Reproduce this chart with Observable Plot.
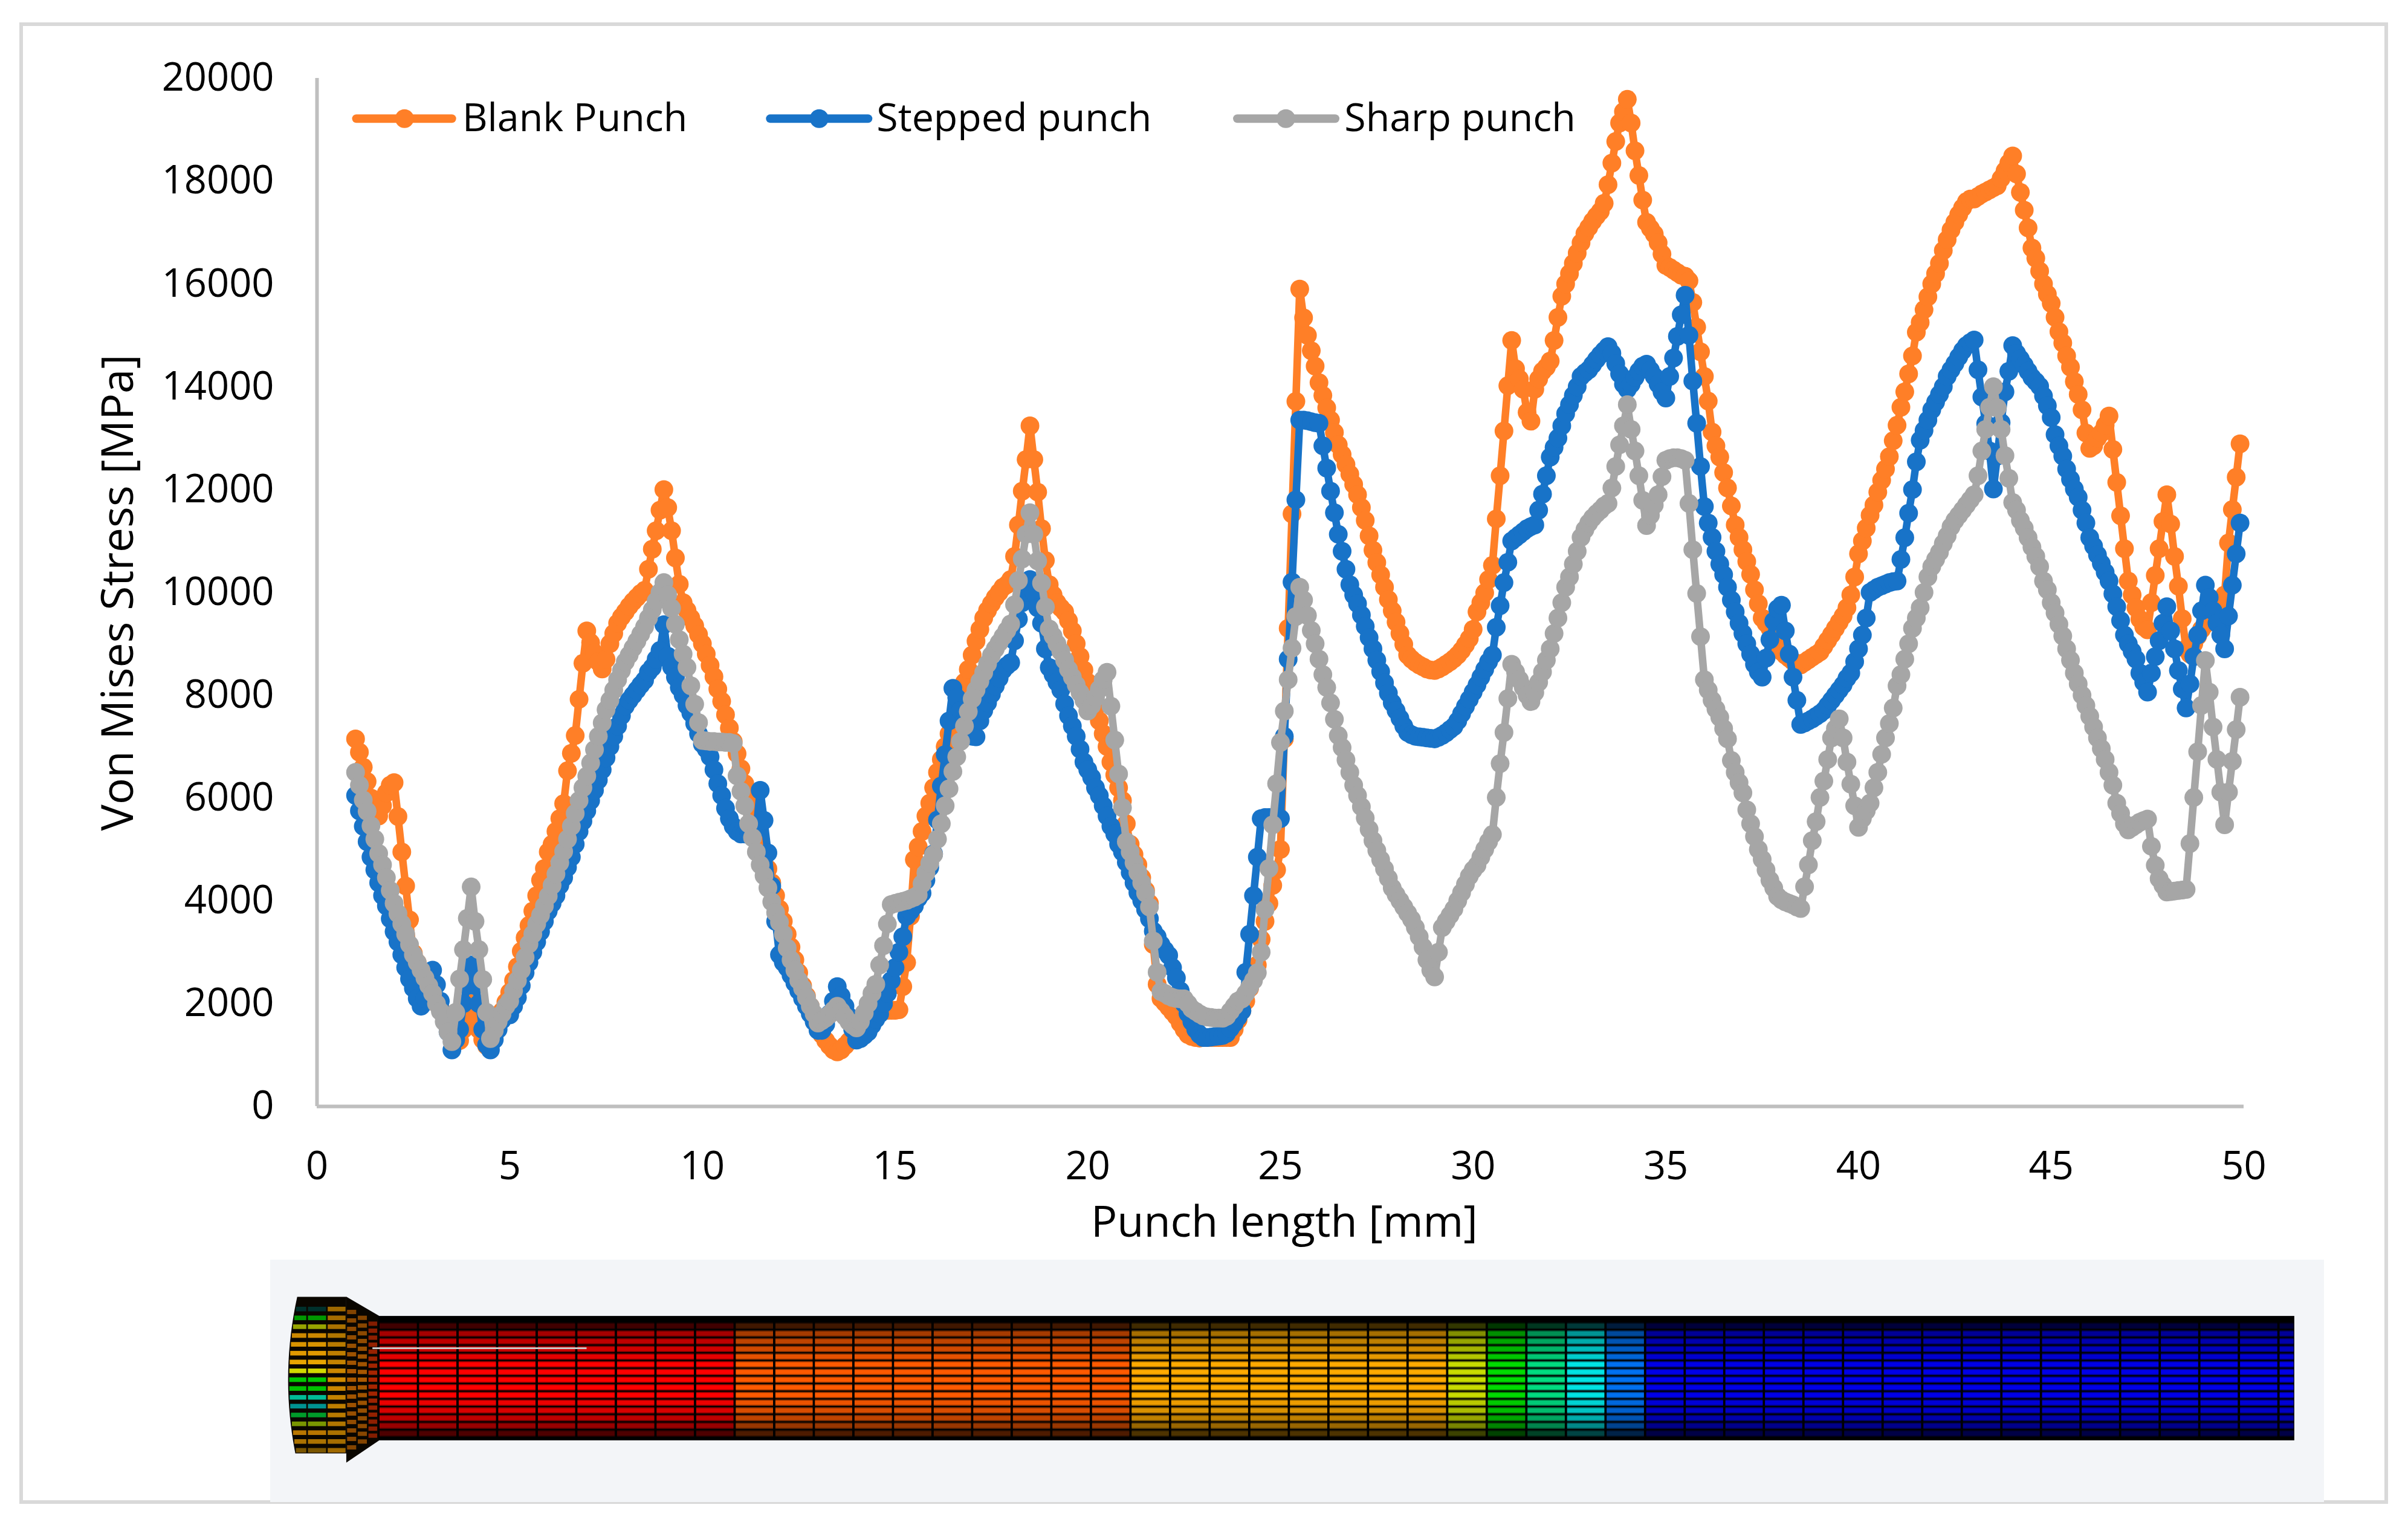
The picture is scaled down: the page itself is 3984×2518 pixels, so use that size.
<!DOCTYPE html>
<html><head><meta charset="utf-8">
<script src="https://cdn.jsdelivr.net/npm/d3@7"></script>
<script src="https://cdn.jsdelivr.net/npm/@observablehq/plot@0.6"></script>
<style>
html,body{margin:0;padding:0;background:#fff;width:3984px;height:2518px;overflow:hidden}
#frame{position:absolute;left:32px;top:37px;width:3907px;height:2439px;border:6px solid #d9d9d9}
#chart{position:absolute;left:0;top:0}
#mesh{position:absolute;left:447px;top:2084px}
</style></head><body>
<div id="frame"></div><div id="chart"></div><div id="mesh"></div>
<script>
const blankPunch = [
7150,6890,6600,6320,6000,5850,5650,5850,6100,6250,
6300,5640,4950,4290,3630,2980,2800,2650,2500,2350,
2200,2050,1900,1750,1550,1350,1250,1280,1500,1750,
2000,1750,1500,1300,1180,1200,1400,1650,1850,2030,
2220,2450,2720,3020,3280,3520,3800,4100,4400,4630,
4950,5100,5350,5600,5890,6530,6870,7215,7920,8620,
9250,9020,8820,8650,8510,8700,9000,9200,9400,9520,
9620,9730,9820,9900,9980,10040,10450,10840,11200,11600,
12000,11650,11200,10670,10160,9800,9650,9500,9350,9180,
9000,8800,8580,8360,8120,7880,7620,7360,7100,6860,
6570,6280,6000,5700,5420,5150,4880,4620,4350,4100,
3840,3600,3350,3100,2850,2600,2350,2150,1950,1750,
1560,1400,1280,1180,1100,1060,1100,1180,1260,1320,
1300,1380,1460,1550,1650,1750,1820,1870,1870,1870,
1870,1880,2330,2800,3700,4800,5050,5350,5650,5900,
6200,6500,6750,7000,7250,7450,7700,7950,8250,8500,
8780,9050,9280,9500,9650,9780,9900,10000,10100,10150,
10250,10700,11310,11970,12585,13240,12585,11950,11240,10620,
10150,9950,9800,9700,9620,9450,9250,9000,8750,8490,
8250,8000,7750,7500,7250,7000,6700,6450,6200,5950,
5500,5100,4900,4700,4450,4200,3950,3150,2375,2100,
2020,1930,1840,1750,1620,1500,1400,1360,1340,1330,
1340,1340,1340,1340,1340,1340,1340,1340,1500,1680,
1860,2050,2300,2550,2750,3250,3600,3950,4300,4600,
5000,7150,9300,11525,13716,15900,15340,15000,14700,14400,
14080,13830,13590,13350,13110,12870,12680,12490,12300,12100,
11900,11650,11400,11100,10820,10580,10340,10100,9860,9640,
9420,9200,8990,8780,8700,8640,8590,8550,8510,8490,
8480,8510,8550,8600,8650,8710,8780,8870,8980,9100,
9280,9620,9800,9990,10250,10525,11430,12270,13140,14020,
14900,14350,14150,13950,13500,13330,13950,14150,14300,14380,
14500,14900,15350,15760,16000,16200,16400,16600,16800,16980,
17100,17220,17320,17410,17570,17930,18350,18770,19130,19350,
19590,19130,18590,18110,17630,17200,17080,16970,16800,16580,
16360,16320,16270,16220,16170,16150,16060,15640,15160,14680,
14200,13720,13120,12850,12630,12330,12030,11680,11310,11070,
10830,10600,10350,10050,9780,9500,9400,9300,9100,8950,
8850,8780,8720,8660,8600,8590,8640,8690,8740,8790,
8840,8950,9065,9180,9300,9420,9540,9700,9950,10300,
10750,11000,11250,11500,11700,11950,12180,12400,12640,12950,
13250,13600,13900,14250,14600,15060,15250,15500,15750,16000,
16200,16400,16650,16860,17050,17200,17350,17480,17600,17650,
17650,17700,17750,17790,17830,17870,17910,18050,18200,18350,
18490,18140,17780,17435,17090,16700,16500,16250,16000,15800,
15620,15350,15070,14850,14600,14380,14100,13850,13550,13100,
12800,12850,13000,13100,13250,13430,12780,12140,11490,10850,
10220,9950,9700,9480,9330,9270,9800,10330,10850,11380,
11900,11330,10700,10120,9490,8900,8800,9000,9150,9280,
9380,9470,9560,9650,9750,9950,10960,11610,12240,12890];
const steppedPunch = [
6050,5750,5450,5150,4850,4600,4350,4100,3900,3650,
3400,3200,2950,2700,2480,2300,2100,1950,2100,2400,
2650,2370,2050,1800,1450,1100,1300,1500,2000,2350,
2750,2350,2000,1500,1200,1100,1300,1500,1680,1850,
1780,1950,2120,2350,2600,2800,3000,3200,3400,3600,
3800,3950,4100,4300,4450,4650,4850,5100,5350,5550,
5750,5950,6150,6350,6550,6780,7000,7200,7400,7600,
7790,7900,8000,8100,8200,8290,8450,8540,8700,8870,
9370,8760,8550,8350,8150,8000,7800,7650,7450,7250,
7050,6950,6800,6550,6280,6050,5800,5600,5450,5350,
5300,5300,5300,5320,5400,6150,5565,4932,4287,3600,
2950,2800,2700,2550,2400,2250,2100,1950,1800,1650,
1480,1480,1600,1800,2050,2330,2150,1950,1750,1500,
1290,1320,1380,1450,1580,1700,1800,2000,2200,2450,
2700,3000,3300,3700,3800,3900,4050,4150,4400,4650,
4915,5574,6235,6845,7500,8134,7950,7700,7500,7300,
7200,7190,7500,7700,7850,8020,8180,8330,8490,8570,
8634,9060,9480,9800,10000,10250,10000,9700,9400,8900,
8540,8400,8250,8100,7832,7600,7400,7200,6950,6700,
6550,6400,6200,6045,5850,5650,5450,5300,5100,4950,
4750,4550,4350,4160,4000,3830,3650,3410,3300,3150,
3040,2940,2700,2500,2250,2000,1810,1650,1500,1400,
1340,1340,1350,1360,1370,1380,1420,1520,1620,1740,
1860,2610,3350,4100,4850,5600,5620,5620,5620,5620,
5600,7200,8700,10200,11800,13350,13350,13340,13320,13300,
13290,12850,12416,11970,11550,11130,10800,10450,10150,9950,
9780,9560,9340,9120,8900,8680,8460,8240,8040,7850,
7700,7550,7400,7275,7230,7200,7190,7180,7170,7160,
7150,7180,7220,7270,7330,7390,7500,7640,7780,7920,
8060,8200,8350,8500,8650,8780,9320,9740,10190,10586,
11000,11060,11120,11180,11240,11280,11310,11600,11910,12270,
12630,12820,13000,13240,13475,13650,13830,14000,14200,14270,
14330,14430,14530,14620,14700,14780,14650,14450,14250,14050,
13950,14050,14180,14300,14400,14440,14320,14200,14050,13900,
13780,14200,14560,14980,15400,15780,15000,14110,13290,12450,
11670,11350,11070,10800,10550,10345,10100,9850,9620,9400,
9200,9000,8800,8600,8450,8350,8720,9080,9440,9680,
9750,9250,8800,8350,7900,7430,7460,7500,7540,7590,
7640,7700,7800,7900,8000,8100,8200,8330,8430,8650,
8900,9170,9500,10000,10050,10100,10130,10160,10190,10210,
10220,10640,11065,11540,12000,12540,12960,13150,13350,13550,
13700,13850,14000,14200,14330,14450,14580,14700,14800,14860,
14910,14330,13800,13280,12750,12010,12650,13300,13900,14300,
14800,14650,14540,14420,14300,14180,14100,14010,13820,13630,
13400,13070,12850,12650,12400,12200,12010,11850,11600,11350,
11065,10900,10730,10560,10390,10220,9970,9720,9450,9170,
9000,8850,8700,8430,8250,8060,8430,8750,9060,9400,
9720,9250,8900,8480,8120,7750,8220,8750,9170,9640,
10140,9900,9640,9400,9170,8900,9540,10140,10750,11350];
const sharpPunch = [
6500,6250,5960,5740,5460,5200,4920,4700,4450,4200,
3950,3750,3550,3350,3150,2950,2800,2650,2500,2350,
2200,2000,1850,1650,1450,1260,1830,2480,3050,3660,
4270,3600,3050,2470,1830,1320,1480,1650,1800,1950,
2050,2250,2450,2650,2900,3160,3350,3550,3720,3900,
4093,4300,4520,4740,4960,5200,5450,5700,5950,6200,
6425,6680,6940,7200,7460,7717,7900,8100,8300,8480,
8650,8780,8920,9050,9190,9330,9500,9660,9830,10000,
10190,9950,9690,9380,9081,8800,8543,8184,7825,7466,
7120,7110,7100,7100,7090,7090,7080,7080,7060,6430,
6130,5850,5500,5230,4950,4700,4488,4250,3980,3770,
3580,3350,3080,2850,2650,2450,2300,2120,1950,1800,
1622,1670,1720,1790,1870,1950,1850,1750,1650,1580,
1528,1650,1820,2000,2200,2375,2750,3127,3552,3928,
3950,3970,3990,4010,4040,4070,4115,4330,4540,4730,
4900,5200,5500,5850,6180,6515,6800,7100,7400,7680,
7927,8100,8270,8440,8610,8774,8900,9020,9140,9260,
9385,9760,10230,10650,11130,11550,11130,10610,10180,9715,
9290,9150,9000,8850,8680,8500,8350,8200,8050,7900,
7692,7800,7950,8115,8300,8445,7786,7127,6468,5810,
5150,4950,4740,4550,4350,4150,3880,3220,2610,2233,
2200,2150,2120,2100,2092,2092,2000,1900,1850,1800,
1760,1740,1730,1720,1720,1717,1750,1850,1950,2050,
2092,2200,2320,2450,2600,3000,3830,4630,5480,6280,
7080,7690,8300,8915,9530,10100,9850,9550,9260,9000,
8700,8400,8150,7850,7530,7215,6980,6740,6500,6250,
6050,5830,5610,5390,5170,4980,4800,4620,4440,4250,
4120,4000,3880,3760,3640,3480,3300,3100,2850,2650,
2520,3000,3480,3600,3720,3840,4000,4160,4320,4480,
4600,4690,4850,5000,5150,5290,6010,6670,7275,7935,
8600,8450,8300,8150,8000,7875,8050,8250,8450,8680,
8900,9200,9500,9800,10100,10300,10550,10800,11070,11220,
11350,11450,11530,11600,11680,11730,12030,12450,12870,13240,
13650,13170,12750,12270,11790,11300,11500,11700,11900,12250,
12570,12600,12620,12620,12600,12570,11730,10830,9980,9140,
8300,8100,7900,7730,7570,7350,7150,6730,6500,6300,
6100,5770,5500,5250,5000,4805,4600,4400,4250,4085,
4020,3980,3950,3920,3880,3850,4275,4700,5170,5540,
6010,6330,6750,7170,7350,7540,7170,6700,6270,5850,
5430,5600,5750,5900,6200,6500,6850,7170,7450,7750,
8180,8400,8700,9000,9300,9500,9700,10000,10300,10500,
10640,10780,10950,11100,11275,11400,11500,11600,11700,11800,
11900,12270,12750,13170,13600,14000,13590,13170,12660,12220,
11750,11600,11400,11250,11065,10880,10700,10500,10220,10050,
9800,9600,9380,9150,8900,8680,8430,8220,8000,7800,
7590,7380,7170,6960,6750,6500,6250,5900,5700,5500,
5380,5430,5480,5530,5560,5590,5060,4690,4430,4300,
4170,4180,4190,4200,4210,4220,5115,6010,6900,7800,
8675,8060,7380,6750,6115,5480,6115,6715,7330,7960];
const seriesNames = ["Blank Punch","Stepped punch","Sharp punch"];
const seriesColours = ["#ff7f27","#1873c8","#a6a6a6"];
const xTicks = [0,5,10,15,20,25,30,35,40,45,50];
const yTicks = [0,2000,4000,6000,8000,10000,12000,14000,16000,18000,20000];

// FE mesh picture: colour of each shank element from head to tip, row brightness
const shankColours = [
"#ff0000","#ff0000","#ff0000","#ff0000","#ff0000","#ff0000","#ff0000","#ff0000","#ff0000",
"#ff5a00","#ff5a00","#ff5a00","#ff5a00","#ff5a00","#ff5a00","#ff5a00","#ff5a00","#ff5a00","#ff5a00",
"#ffaa00","#ffaa00","#ffaa00","#ffaa00","#ffaa00","#ffaa00","#ffaa00","#ffaa00",
"#c8dc00","#00dc00","#00dc80","#00e4e4","#0070f0",
"#0000e8","#0000e8","#0000e8","#0000e8","#0000e8","#0000e8","#0000e8","#0000e8","#0000e8",
"#0000e8","#0000e8","#0000e8","#0000e8","#0000e8","#0000e8","#0000e8","#0000e8"];
const rowBrightness = [0.25,0.65,0.75,0.82,0.9,1,1,1,1,1,0.92,0.85,0.75,0.6,0.3];
const headFace = ["#00403a","#00c000","#b8c800","#f0a000","#f7a800","#f7a800","#f7b000","#d8e000","#00c800",
"#00c800","#00c8a0","#00a0a0","#00b030","#90b000","#e09000","#d89000","#a07000"];
const axisTitles = ["Punch length [mm]","Von Mises Stress [MPa]"];
</script>
<script>
const rows = [blankPunch, steppedPunch, sharpPunch].flatMap((vals, k) =>
  vals.map((v, i) => ({length: 1 + i / 10, stress: v, series: seriesNames[k]})));
const seriesMarks = seriesNames.flatMap((name, k) => {
  const d = rows.filter(r => r.series === name);
  return [
    Plot.line(d, {x: "length", y: "stress", stroke: seriesColours[k], strokeWidth: 12.5, strokeLinejoin: "round"}),
    Plot.dot(d, {x: "length", y: "stress", fill: seriesColours[k], r: 15.5})
  ];
});
// legend, in data units
const legendKeys = [
  {from: 1.02,  to: 3.5,   mark: 2.27,  text: 3.77},
  {from: 11.76, to: 14.3,  mark: 13.03, text: 14.52},
  {from: 23.88, to: 26.42, mark: 25.14, text: 26.66}
];
const legendLevel = 19215;
const legendMarks = legendKeys.flatMap((k, i) => [
  Plot.line([[k.from, legendLevel],[k.to, legendLevel]], {stroke: seriesColours[i], strokeWidth: 14, strokeLinecap: "round"}),
  Plot.dot([[k.mark, legendLevel]], {fill: seriesColours[i], r: 15.5}),
  Plot.text([[k.text, legendLevel]], {text: () => seriesNames[i], textAnchor: "start", fontSize: 64.5, fill: "#000"})
]);
const chart = Plot.plot({
  width: 3984, height: 2518,
  marginLeft: 524, marginRight: 272, marginTop: 129, marginBottom: 688,
  style: {fontFamily: "'Open Sans'", background: "transparent", color: "#000", fontSize: "65px"},
  x: {domain: [0, 50], ticks: xTicks},
  y: {domain: [0, 20000]},
  marks: [
    Plot.ruleX([0], {stroke: "#bfbfbf", strokeWidth: 6}),
    Plot.ruleY([0], {stroke: "#bfbfbf", strokeWidth: 6}),
    Plot.axisX({ticks: xTicks, tickSize: 0, tickPadding: 74, fontSize: 65, label: null, tickFormat: "d"}),
    Plot.axisY({ticks: yTicks, tickSize: 0, tickPadding: 71, fontSize: 65, label: null, tickFormat: "d"}),
    Plot.text([[25.1, -2257]], {text: () => axisTitles[0], fontSize: 72, fill: "#000"}),
    Plot.text([[-5.145, 9994]], {text: () => axisTitles[1], fontSize: 73, rotate: -90, fill: "#000"}),
    ...seriesMarks,
    ...legendMarks
  ]
});
document.getElementById("chart").appendChild(chart);

// mesh picture: x in shank elements, y in mesh rows
const centreRow = 7;
const shankEnd = 48.4;
const bright = (c, k) => d3.interpolateRgb("#000", c)(k);
const headLeft = r => -2.28 + Math.pow(Math.abs(r - centreRow) / 10.8, 2) * 0.23;
const headOutline = d3.range(-3.79, 17.8, 1.2).map(y => ({y, x1: headLeft(y), x2: -0.81}));
const taperOutline = [{x: -0.81, y1: -3.8, y2: 17.8}, {x: 0.02, y1: -1.3, y2: 14.9}];
const cells = [];
const add = (x1, x2, y1, y2, fill) => cells.push({x1, x2, y1, y2, fill});
shankColours.forEach((c, col) => rowBrightness.forEach((k, r) => {
  const right = Math.min(col + 0.97, shankEnd - 0.02);
  add(col + 0.03, right, r - 0.42, r + 0.42, bright(c, k * 0.55));
  add(col + 0.03, right, r - 0.28, r + 0.28, bright(c, k));
}));
const headEdges = [-2.28, -1.8, -1.3, -0.81];
const taperEdges = [-0.81, -0.54, -0.27, -0.01];
headFace.forEach((c, i) => {
  const r = centreRow + (i - 8) * 1.15;
  const k = 1 - Math.abs(i - 8) * 0.03;
  add(headLeft(r) + 0.03, headEdges[1] - 0.02, r - 0.3, r + 0.3, bright(c, k));
  add(headEdges[1] + 0.02, headEdges[2] - 0.02, r - 0.3, r + 0.3, bright(c, k));
  add(headEdges[2] + 0.02, headEdges[3] - 0.02, r - 0.3, r + 0.3, bright("#e89a00", k * 0.9));
  taperEdges.slice(0, 3).forEach((e, j) => {
    const s = 1 - (j + 0.5) * 0.083;
    const rr = centreRow + (r - centreRow) * s;
    add(e + 0.02, taperEdges[j + 1] - 0.02, rr - 0.28, rr + 0.28, bright(j < 2 ? "#d87000" : "#d83000", k * 0.8));
  });
});
const mesh = Plot.plot({
  width: 3398, height: 401, margin: 0,
  style: {background: "#f3f5f8"},
  x: {domain: [-2.733, 49.15], axis: null},
  y: {domain: [-8.63, 22.94], range: [0, 401], axis: null},
  color: {type: "identity"},
  marks: [
    Plot.areaX(headOutline, {y: "y", x1: "x1", x2: "x2", fill: "#0a0600"}),
    Plot.areaY(taperOutline, {x: "x", y1: "y1", y2: "y2", fill: "#0a0600"}),
    Plot.rect([{}], {x1: 0, x2: shankEnd, y1: -1.3, y2: 14.9, fill: "#000"}),
    Plot.rect(cells, {x1: "x1", x2: "x2", y1: "y1", y2: "y2", fill: "fill"}),
    Plot.ruleY([2.86], {x1: -0.15, x2: 5.26, stroke: "#c8c8c8", strokeWidth: 3})
  ]
});
document.getElementById("mesh").appendChild(mesh);
</script>
</body></html>
